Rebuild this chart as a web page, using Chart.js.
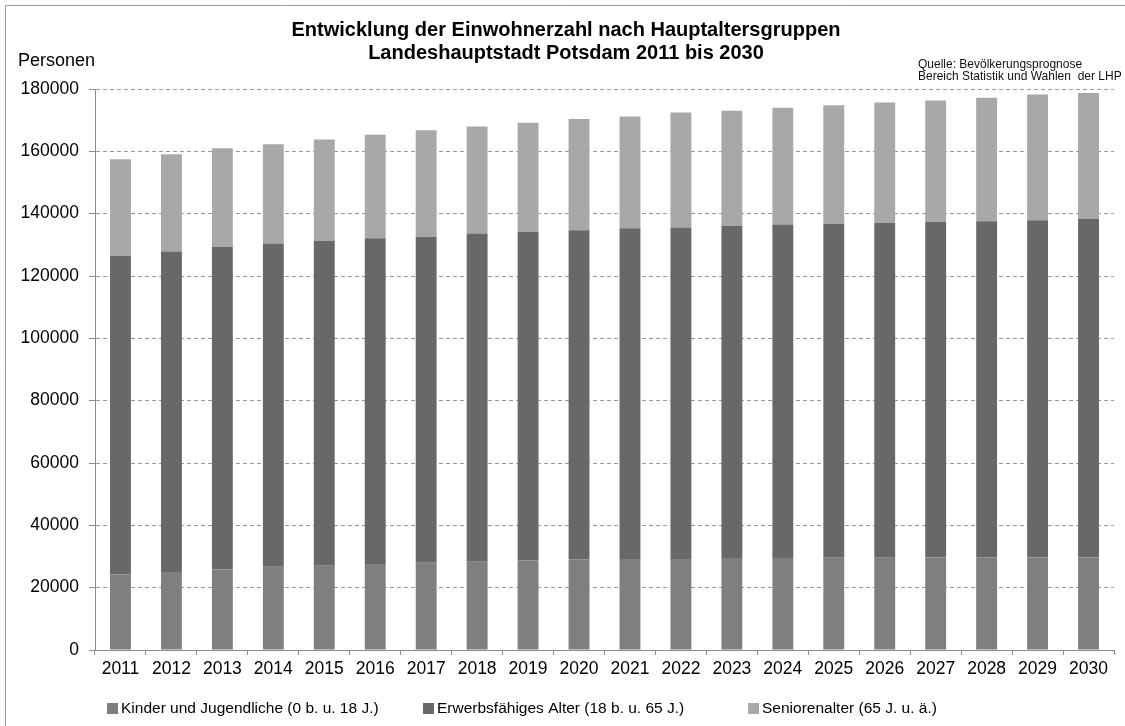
<!DOCTYPE html>
<html>
<head>
<meta charset="utf-8">
<script src="https://cdn.jsdelivr.net/npm/chart.js@4/dist/chart.umd.min.js"></script>
<style>
html, body { margin: 0; padding: 0; background: #ffffff; }
#wrap { width: 1125px; height: 726px; position: relative; }
canvas { display: block; }
</style>
</head>
<body>
<div id="wrap"><canvas id="c" width="1125" height="726"></canvas></div>
<script>
// ---------- data ----------
const years = ['2011','2012','2013','2014','2015','2016','2017','2018','2019','2020',
               '2021','2022','2023','2024','2025','2026','2027','2028','2029','2030'];
const kinder = [24200, 25000, 25800, 26700, 27000, 27600, 28000, 28300, 28700, 29100,
                29200, 29200, 29500, 29500, 29600, 29600, 29700, 29700, 29700, 29700];
const erwerbs = [102200, 102900, 103600, 103700, 104200, 104500, 104600, 105300, 105400, 105600,
                 106100, 106400, 106600, 107000, 107200, 107400, 107600, 107900, 108200, 108600];
const senioren = [31100, 31200, 31600, 31900, 32600, 33200, 34200, 34400, 35100, 35700,
                  35900, 36900, 36900, 37500, 38000, 38700, 39000, 39600, 40300, 40400];
const yTicks = [0, 20000, 40000, 60000, 80000, 100000, 120000, 140000, 160000, 180000];
const seriesNames = ['Kinder und Jugendliche (0 b. u. 18 J.)',
                     'Erwerbsfähiges Alter (18 b. u. 65 J.)',
                     'Seniorenalter (65 J. u. ä.)'];
const titleLines = ['Entwicklung der Einwohnerzahl nach Hauptaltersgruppen',
                    'Landeshauptstadt Potsdam 2011 bis 2030'];
const yAxisTitle = 'Personen';
const sourceLines = ['Quelle: Bevölkerungsprognose', 'Bereich Statistik und Wahlen  der LHP'];

// ---------- style ----------
const FONT = '"Liberation Sans", Arial, Helvetica, sans-serif';
const colors = ['#7f7f7f', '#686868', '#a8a8a8'];
const legendBoxX = [107, 423, 748];
Chart.defaults.font.family = FONT;

const decorPlugin = {
  id: 'decor',
  afterDraw(chart) {
    const ctx = chart.ctx;
    ctx.save();
    // frame (top and left edges visible)
    ctx.strokeStyle = '#9a9a9a';
    ctx.lineWidth = 1;
    ctx.beginPath();
    ctx.moveTo(5.5, 726);
    ctx.lineTo(5.5, 5.5);
    ctx.lineTo(1125, 5.5);
    ctx.stroke();

    // title
    ctx.fillStyle = '#000';
    ctx.textAlign = 'center';
    ctx.textBaseline = 'middle';
    ctx.font = 'bold 20px ' + FONT;
    ctx.fillText(titleLines[0], 566, 30);
    ctx.fillText(titleLines[1], 566, 53);

    // y axis title
    ctx.textAlign = 'left';
    ctx.font = '18px ' + FONT;
    ctx.fillText(yAxisTitle, 18, 61);

    // source
    ctx.font = '12px ' + FONT;
    ctx.fillStyle = '#111';
    ctx.fillText(sourceLines[0], 918, 65);
    ctx.fillText(sourceLines[1], 918, 77);

    // legend
    ctx.font = '15.5px ' + FONT;
    const yc = 708;
    chart.data.datasets.forEach((ds, i) => {
      const x = legendBoxX[i];
      ctx.fillStyle = ds.backgroundColor;
      ctx.fillRect(x, yc - 5, 11, 11);
      ctx.fillStyle = '#000';
      ctx.fillText(ds.label, x + 14, yc + 1);
    });
    ctx.restore();
  }
};

new Chart(document.getElementById('c'), {
  type: 'bar',
  data: {
    labels: years,
    datasets: [
      { label: seriesNames[0], data: kinder, backgroundColor: colors[0] },
      { label: seriesNames[1], data: erwerbs, backgroundColor: colors[1] },
      { label: seriesNames[2], data: senioren, backgroundColor: colors[2] }
    ]
  },
  options: {
    responsive: false,
    animation: false,
    devicePixelRatio: 1,
    layout: { padding: { top: 89, right: 11, left: 0, bottom: 0 } },
    datasets: { bar: { barPercentage: 0.41, categoryPercentage: 1.0, borderWidth: 0 } },
    plugins: {
      legend: { display: false },
      title: { display: false },
      tooltip: { enabled: false }
    },
    scales: {
      x: {
        stacked: true,
        offset: true,
        grid: { display: true, drawOnChartArea: false, drawTicks: true, tickLength: 5,
                offset: true, color: '#8c8c8c', tickColor: '#8c8c8c' },
        border: { display: true, color: '#8c8c8c', width: 1 },
        ticks: { font: { size: 17.5 }, color: '#000', padding: 4, maxRotation: 0, autoSkip: false },
        afterFit(s) { s.height = 76; }
      },
      y: {
        stacked: true,
        min: 0,
        max: 180000,
        afterBuildTicks(s) { s.ticks = yTicks.map(v => ({ value: v })); },
        ticks: { font: { size: 17.5 }, color: '#000', padding: 10, callback: v => String(v) },
        grid: { color: '#9a9a9a', tickColor: '#8c8c8c', tickLength: 6, drawTicks: true },
        border: { display: true, color: '#8c8c8c', width: 1, dash: [4, 3] },
        afterFit(s) { s.width = 95; }
      }
    }
  },
  plugins: [decorPlugin]
});
</script>
</body>
</html>
